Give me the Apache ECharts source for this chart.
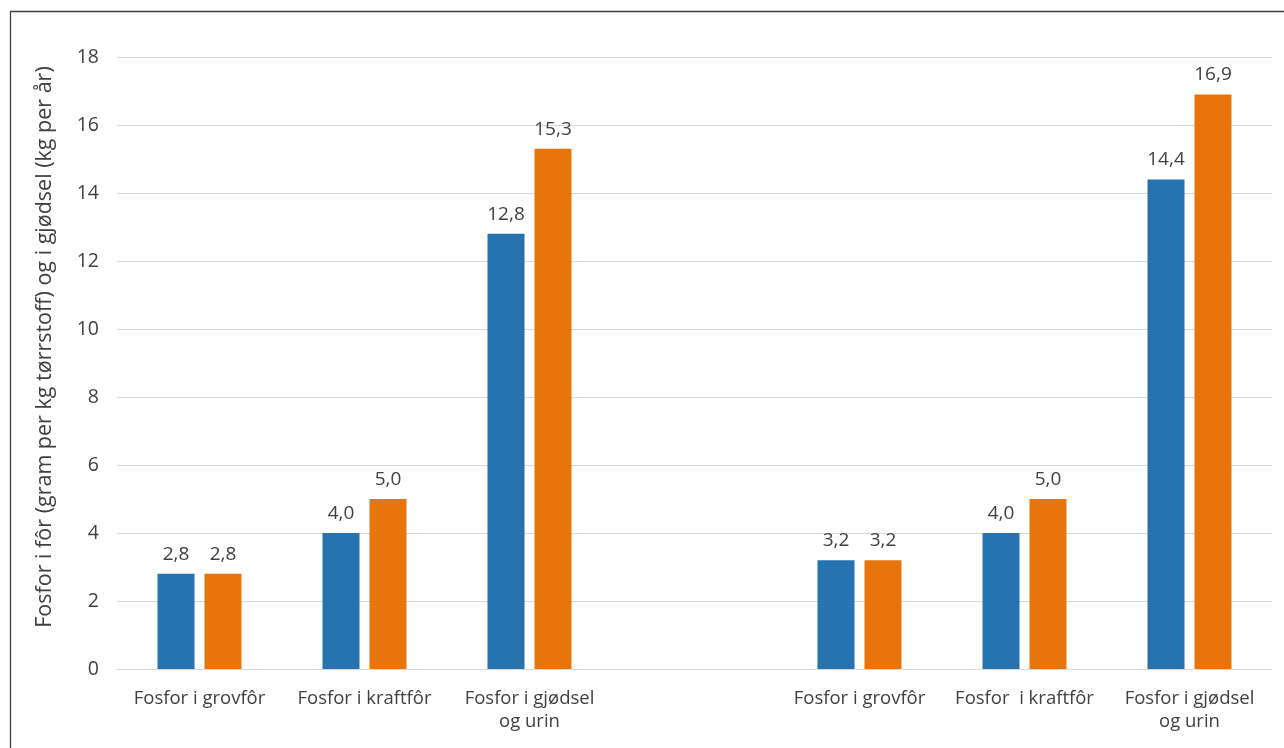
<!DOCTYPE html>
<html>
<head>
<meta charset="utf-8">
<script src="https://cdn.jsdelivr.net/npm/echarts@6/dist/echarts.min.js"></script>
<style>
  html, body { margin: 0; padding: 0; background: #fff; }
  #chart { width: 1284px; height: 748px; }
</style>
</head>
<body>
<div id="chart"></div>
<script>
// Categories (an empty slot separates the two groups)
const categories = [
  'Fosfor i grovfôr',
  'Fosfor i kraftfôr',
  'Fosfor i gjødsel\nog urin',
  '',
  'Fosfor i grovfôr',
  'Fosfor  i kraftfôr',
  'Fosfor i gjødsel\nog urin'
];
const seriesBlue = [2.8, 4.0, 12.8, null, 3.2, 4.0, 14.4];
const seriesOrange = [2.8, 5.0, 15.3, null, 3.2, 5.0, 16.9];
const yTicks = [0, 2, 4, 6, 8, 10, 12, 14, 16, 18];

const FONT = 'Open Sans';
const TEXT = '#404040';

const fmt = p => p.value == null ? '' : p.value.toFixed(1).replace('.', ',');

const chart = echarts.init(document.getElementById('chart'), null, { renderer: 'canvas' });
chart.setOption({
  animation: false,
  backgroundColor: '#ffffff',
  textStyle: { fontFamily: FONT },
  graphic: [{
    type: 'rect',
    shape: { x: 10.5, y: 11.5, width: 1290, height: 760 },
    style: { fill: 'none', stroke: '#404040', lineWidth: 1.3 },
    silent: true
  }],
  grid: { left: 117, right: 12, top: 57, bottom: 79 },
  xAxis: {
    type: 'category',
    data: categories,
    axisLine: { show: true, lineStyle: { color: '#d9d9d9', width: 1 } },
    axisTick: { show: false },
    axisLabel: {
      color: TEXT, fontFamily: FONT, fontSize: 18.5, margin: 18,
      lineHeight: 23, interval: 0
    }
  },
  yAxis: {
    type: 'value',
    min: yTicks[0],
    max: yTicks[yTicks.length - 1],
    interval: 2,
    name: 'Fosfor i fôr (gram per kg tørrstoff) og i gjødsel (kg per år)',
    nameLocation: 'middle',
    nameGap: 61,
    nameTextStyle: { color: TEXT, fontFamily: FONT, fontSize: 21.5, padding: [0, 0, 0, 32] },
    axisLine: { show: false },
    axisTick: { show: false },
    axisLabel: { color: TEXT, fontFamily: FONT, fontSize: 19.5, margin: 18 },
    splitLine: { lineStyle: { color: '#d9d9d9', width: 1 } }
  },
  series: [
    {
      type: 'bar',
      data: seriesBlue,
      barWidth: 37,
      barGap: '27%',
      itemStyle: { color: '#2673B0' },
      label: {
        show: true, position: 'top', distance: 10, formatter: fmt,
        color: TEXT, fontFamily: FONT, fontSize: 19
      }
    },
    {
      type: 'bar',
      data: seriesOrange,
      barWidth: 37,
      barGap: '27%',
      itemStyle: { color: '#E7750C' },
      label: {
        show: true, position: 'top', distance: 10, formatter: fmt,
        color: TEXT, fontFamily: FONT, fontSize: 19
      }
    }
  ]
});
</script>
</body>
</html>
